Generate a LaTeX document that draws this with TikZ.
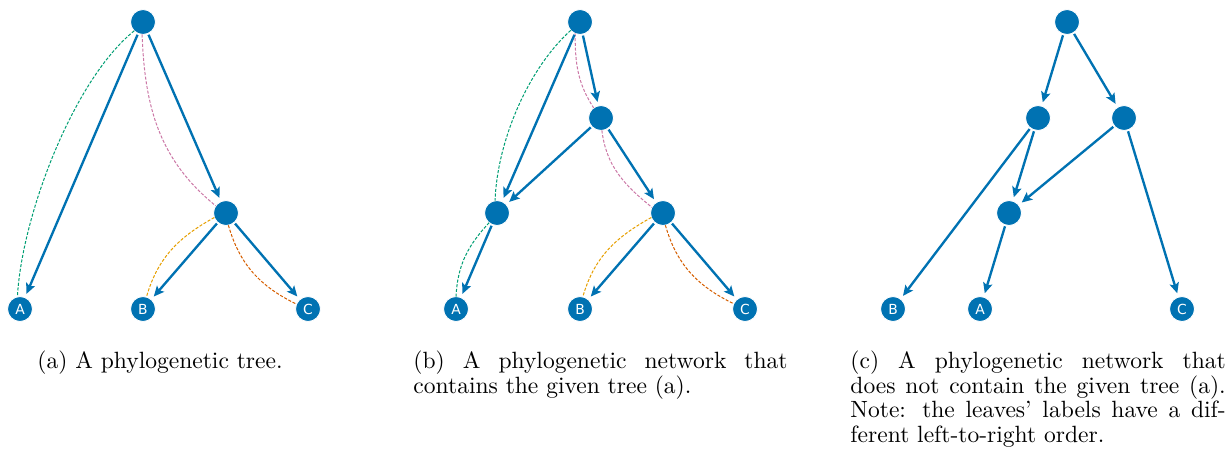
\documentclass[tikz,border=0pt]{standalone}
\usepackage{fontspec}
\newfontfamily\leaffont{DejaVu Sans}
\usetikzlibrary{arrows.meta}
\definecolor{nblue}{HTML}{0072B2}
\definecolor{cgreen}{HTML}{009E73}
\definecolor{cpink}{HTML}{CC79A7}
\definecolor{corange}{HTML}{E69F00}
\definecolor{cverm}{HTML}{D55E00}
\begin{document}
\begin{tikzpicture}[x=0.425pt,y=0.425pt,
  vtx/.style={circle,fill=nblue,draw=white,line width=0.35pt,minimum size=10.6pt,inner sep=0pt,outer sep=0pt},
  leaf/.style={vtx,font=\leaffont\fontsize{5.9}{7}\selectfont,text=white},
  arr/.style={nblue,line width=1pt,-{Stealth[length=4.4pt,width=4pt,inset=0.9pt]},shorten <=0.6pt,shorten >=1.7pt},
  emb/.style={line width=0.43pt,dash pattern=on 1.3pt off 0.7pt},
  captxt/.style={font=\fontsize{10}{10.5}\selectfont,inner sep=0pt}]
\useasboundingbox (0,0) rectangle (1228,459);
% ---------- (a)
\node[vtx] (ra) at (143,437) {};
\node[vtx] (ia) at (226,246) {};
\node[leaf] (Aa) at (20,150) {A};
\node[leaf] (Ba) at (143,150) {B};
\node[leaf] (Ca) at (308,150) {C};
\draw[emb,cgreen] (ra.225) to[out=219,in=87,looseness=0.7] (Aa.102);
\draw[emb,cpink] (ra.266) to[out=272,in=141] (ia.145);
\draw[emb,corange] (ia.201) to[out=209,in=74] (Ba.74);
\draw[emb,cverm] (ia.281) to[out=286,in=154] (Ca.157);
\draw[arr] (ra) -- (Aa);
\draw[arr] (ra) -- (ia);
\draw[arr] (ia) -- (Ba);
\draw[arr] (ia) -- (Ca);
% ---------- (b)
\node[vtx] (rb) at (580,437) {};
\node[vtx] (nb) at (601,341) {};
\node[vtx] (lb) at (497,246) {};
\node[vtx] (qb) at (663,246) {};
\node[leaf] (Ab) at (456,150) {A};
\node[leaf] (Bb) at (580,150) {B};
\node[leaf] (Cb) at (745,150) {C};
\draw[emb,cgreen] (rb.222) to[out=222,in=88,looseness=0.8] (lb.99);
\draw[emb,cgreen] (lb.231) to[out=227,in=87] (Ab.90);
\draw[emb,cpink] (rb.247) to[out=270,in=123] (nb.126);
\draw[emb,cpink] (nb.274) to[out=277,in=141] (qb.153);
\draw[emb,corange] (qb.201) to[out=209,in=74] (Bb.77);
\draw[emb,cverm] (qb.281) to[out=286,in=154] (Cb.155);
\draw[arr] (rb) -- (nb);
\draw[arr] (rb) -- (lb);
\draw[arr] (nb) -- (lb);
\draw[arr] (nb) -- (qb);
\draw[arr] (lb) -- (Ab);
\draw[arr] (qb) -- (Bb);
\draw[arr] (qb) -- (Cb);
% ---------- (c)
\node[vtx] (rc) at (1067,437) {};
\node[vtx] (lc) at (1038,341) {};
\node[vtx] (qc) at (1124,341) {};
\node[vtx] (wc) at (1009,246) {};
\node[leaf] (Bc) at (893,150) {B};
\node[leaf] (Ac) at (980,150) {A};
\node[leaf] (Cc) at (1182,150) {C};
\draw[arr] (rc) -- (lc);
\draw[arr] (rc) -- (qc);
\draw[arr] (lc) -- (Bc);
\draw[arr] (lc) -- (wc);
\draw[arr] (qc) -- (wc);
\draw[arr] (qc) -- (Cc);
\draw[arr] (wc) -- (Ac);
% ---------- captions
\node[captxt,anchor=base] (capa) at (160,91) {(a) A phylogenetic tree.};
\node[captxt,anchor=north west,text width=159pt,align=justify] (capb) at (413,108.6)
  {(b) A phylogenetic network that\linebreak contains the given tree (a).};
\node[captxt,anchor=north west,text width=159.5pt,align=justify] (capc) at (850,108.6)
  {(c) A phylogenetic network that\linebreak does not contain the given tree (a).\linebreak Note: the leaves' labels have a dif-\linebreak ferent left-to-right order.};
\end{tikzpicture}
\end{document}
